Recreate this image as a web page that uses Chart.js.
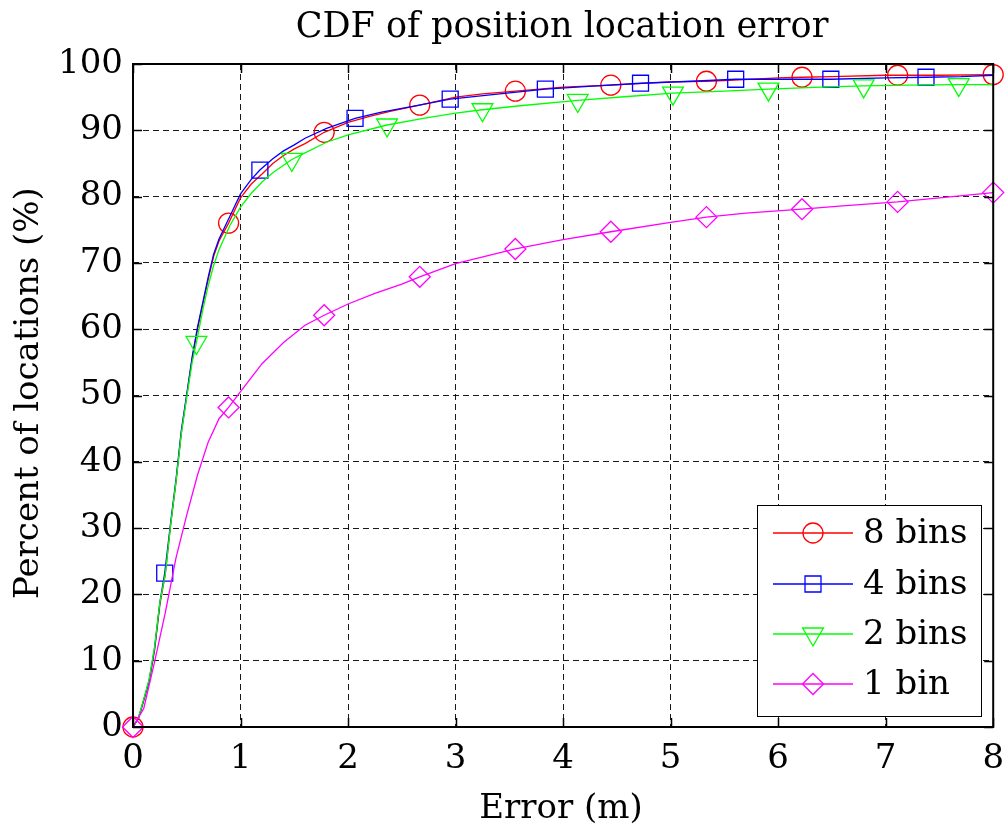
<!DOCTYPE html>
<html>
<head>
<meta charset="utf-8">
<title>CDF of position location error</title>
<script src="https://cdn.jsdelivr.net/npm/chart.js"></script>
<style>
    html, body { margin: 0; padding: 0; background: #fff; }
    #wrap { width: 1005px; height: 828px; }
</style>
</head>
<body>
<div id="wrap"><canvas id="mycanvas"></canvas></div>
<script>
// error (m) against percent of located positions, one curve per bin count
var err8 = [0, 0.05, 0.1, 0.15, 0.2, 0.25, 0.3, 0.35, 0.4, 0.45, 0.5, 0.55, 0.6, 0.65, 0.7, 0.75, 0.8, 0.889, 1.0, 1.1,
            1.2, 1.3, 1.4, 1.5, 1.6, 1.778, 2.0, 2.2, 2.4, 2.667, 3.0, 3.25, 3.556, 4.0, 4.444, 5.0, 5.333, 5.5, 6.0, 6.222,
            6.5, 7.0, 7.111, 7.5, 8.0];
var pct8 = [0, 1.3, 4.0, 6.8, 11.5, 18.5, 23.0, 30.5, 37.0, 44.5, 50.0, 55.5, 60.0, 63.8, 67.6, 71.0, 73.3, 76.0, 79.8, 81.9,
            83.4, 85.0, 86.2, 87.2, 88.0, 89.7, 91.2, 92.1, 92.9, 93.8, 95.0, 95.5, 95.9, 96.5, 96.8, 97.3, 97.4, 97.5, 97.9, 98.0,
            98.1, 98.3, 98.3, 98.3, 98.4];
var mark8 = [0, 0.889, 1.778, 2.667, 3.556, 4.444, 5.333, 6.222, 7.111, 8.0];

var err4 = [0, 0.05, 0.1, 0.15, 0.2, 0.25, 0.295, 0.35, 0.4, 0.45, 0.5, 0.55, 0.6, 0.65, 0.7, 0.75, 0.8, 0.9, 1.0, 1.1,
            1.18, 1.3, 1.4, 1.5, 1.6, 1.8, 2.065, 2.3, 2.6, 2.95, 3.3, 3.835, 4.2, 4.72, 5.2, 5.605, 6.0, 6.49, 7.0, 7.375,
            7.7, 8.0];
var pct4 = [0, 1.3, 4.1, 7.0, 11.8, 18.8, 23.2, 30.8, 37.3, 44.8, 50.2, 55.8, 60.3, 64.1, 67.9, 71.3, 73.6, 77.0, 80.4, 82.6,
            84.0, 85.7, 86.9, 87.8, 88.8, 90.3, 91.8, 92.7, 93.6, 94.7, 95.3, 96.2, 96.6, 97.1, 97.4, 97.7, 97.7, 97.7, 97.9, 98.0,
            98.1, 98.3];
var mark4 = [0.295, 1.18, 2.065, 2.95, 3.835, 4.72, 5.605, 6.49, 7.375];

var err2 = [0, 0.05, 0.1, 0.15, 0.2, 0.25, 0.3, 0.35, 0.4, 0.45, 0.5, 0.55, 0.59, 0.65, 0.7, 0.75, 0.8, 0.9, 1.0, 1.1,
            1.2, 1.3, 1.477, 1.6, 1.8, 2.0, 2.363, 2.7, 3.0, 3.25, 3.6, 4.136, 4.6, 5.022, 5.5, 5.91, 6.4, 6.795, 7.2, 7.68,
            8.0];
var pct2 = [0, 1.4, 4.2, 7.2, 12.0, 18.8, 23.0, 30.5, 37.0, 44.3, 49.8, 55.0, 58.0, 63.0, 66.6, 69.6, 72.0, 75.6, 78.4, 80.5,
            82.2, 83.6, 85.6, 86.6, 88.2, 89.3, 90.8, 91.8, 92.6, 93.1, 93.7, 94.5, 95.1, 95.6, 95.9, 96.2, 96.5, 96.7, 96.8, 96.9,
            96.9];
var mark2 = [0.59, 1.477, 2.363, 3.25, 4.136, 5.022, 5.91, 6.795, 7.68];

var err1 = [0, 0.1, 0.2, 0.3, 0.4, 0.5, 0.6, 0.7, 0.8, 0.889, 1.0, 1.2, 1.4, 1.6, 1.778, 2.0, 2.25, 2.5, 2.667, 3.0,
            3.556, 4.0, 4.444, 5.0, 5.333, 5.7, 6.222, 6.6, 7.111, 7.5, 8.0];
var pct1 = [0, 2.8, 9.8, 17.2, 25.5, 32.0, 38.0, 43.0, 46.5, 48.2, 50.6, 54.8, 58.0, 60.6, 62.1, 63.8, 65.4, 66.8, 67.9, 69.9,
            72.1, 73.5, 74.7, 76.1, 76.9, 77.5, 78.1, 78.6, 79.2, 79.8, 80.6];
var mark1 = [0, 0.889, 1.778, 2.667, 3.556, 4.444, 5.333, 6.222, 7.111, 8.0];

var seriesNames = ['8 bins', '4 bins', '2 bins', '1 bin'];
var xTicks = [0, 1, 2, 3, 4, 5, 6, 7, 8];
var yTicks = [0, 10, 20, 30, 40, 50, 60, 70, 80, 90, 100];

var FONT = '"DejaVu Serif", "Liberation Serif", serif';

function toPoints(xs, ys) {
    var pts = [];
    for (var i = 0; i < xs.length; i++) {
        pts.push({ x: xs[i], y: ys[i] });
    }
    return pts;
}

// marker every few samples, like matlab's plot(..., 'o-') on a thinned index
function markRadius(marks, r) {
    return function(ctx) {
        return marks.indexOf(ctx.raw.x) >= 0 ? r : 0;
    };
}

function makeSet(label, xs, ys, marks, color, style, r, rot, order) {
    return {
        label: label,
        data: toPoints(xs, ys),
        marks: marks,
        markSize: r,
        borderColor: color,
        borderWidth: 1.3,
        tension: 0,
        fill: false,
        pointStyle: style,
        pointRotation: rot,
        pointRadius: markRadius(marks, r),
        pointHoverRadius: markRadius(marks, r),
        pointBorderColor: color,
        pointBorderWidth: 1.3,
        pointBackgroundColor: 'rgba(0,0,0,0)',
        clip: false,
        order: order
    };
}

var sets = [
    makeSet(seriesNames[0], err8, pct8, mark8, '#ff0000', 'circle', 10, 0, 4),
    makeSet(seriesNames[1], err4, pct4, mark4, '#0000ff', 'rect', 11.3, 0, 3),
    makeSet(seriesNames[2], err2, pct2, mark2, '#00ff00', 'triangle', 12, 180, 2),
    makeSet(seriesNames[3], err1, pct1, mark1, '#ff00ff', 'rectRot', 10.5, 0, 1)
];

// legend marker, same geometry as chart.js point styles
function drawMarker(ctx, style, x, y, r) {
    ctx.beginPath();
    if (style == 'circle') {
        ctx.arc(x, y, r, 0, Math.PI * 2);
    } else if (style == 'rect') {
        var s = r * Math.SQRT1_2;
        ctx.rect(x - s, y - s, 2 * s, 2 * s);
    } else if (style == 'triangle') {
        var a = Math.PI;
        for (var k = 0; k < 3; k++) {
            var px = x + Math.sin(a) * r, py = y - Math.cos(a) * r;
            if (k == 0) ctx.moveTo(px, py); else ctx.lineTo(px, py);
            a += Math.PI * 2 / 3;
        }
        ctx.closePath();
    } else {
        ctx.moveTo(x, y - r);
        ctx.lineTo(x + r, y);
        ctx.lineTo(x, y + r);
        ctx.lineTo(x - r, y);
        ctx.closePath();
    }
    ctx.stroke();
}

var axesBox = {
    id: 'axesBox',
    afterDatasetsDraw: function(chart) {
        var ctx = chart.ctx, a = chart.chartArea;
        var sx = chart.scales.x, sy = chart.scales.y;
        var tl = 9;
        ctx.save();
        ctx.strokeStyle = '#000';
        ctx.lineWidth = 1.5;
        ctx.beginPath();
        xTicks.forEach(function(v) {
            var px = Math.round(sx.getPixelForValue(v)) + 0.5;
            ctx.moveTo(px, a.bottom); ctx.lineTo(px, a.bottom - tl);
            ctx.moveTo(px, a.top); ctx.lineTo(px, a.top + tl);
        });
        yTicks.forEach(function(v) {
            var py = Math.round(sy.getPixelForValue(v)) + 0.5;
            ctx.moveTo(a.left, py); ctx.lineTo(a.left + tl, py);
            ctx.moveTo(a.right, py); ctx.lineTo(a.right - tl, py);
        });
        ctx.stroke();
        ctx.lineWidth = 2;
        ctx.strokeRect(a.left, a.top, a.right - a.left, a.bottom - a.top);
        ctx.restore();
    },
    afterDraw: function(chart) {
        var ctx = chart.ctx;
        ctx.save();
        ctx.fillStyle = '#000';

        // titles
        ctx.font = '35px ' + FONT;
        ctx.textAlign = 'center';
        ctx.textBaseline = 'alphabetic';
        ctx.fillText('CDF of position location error', 562, 37);
        ctx.font = '34px ' + FONT;
        ctx.fillText('Error (m)', 561, 818);
        ctx.save();
        ctx.translate(38, 393);
        ctx.rotate(-Math.PI / 2);
        ctx.fillText('Percent of locations (%)', 0, 0);
        ctx.restore();

        // legend box
        var bx = 757.5, by = 505.5, bw = 224, bh = 211;
        ctx.fillStyle = '#fff';
        ctx.fillRect(bx, by, bw, bh);
        ctx.strokeStyle = '#000';
        ctx.lineWidth = 1;
        ctx.strokeRect(bx, by, bw, bh);
        var rowY = [533, 584, 634, 684];
        chart.data.datasets.forEach(function(ds, i) {
            var y = rowY[i];
            ctx.strokeStyle = ds.borderColor;
            ctx.lineWidth = 1.3;
            ctx.beginPath();
            ctx.moveTo(773, y);
            ctx.lineTo(853, y);
            ctx.stroke();
            drawMarker(ctx, ds.pointStyle, 813, y, ds.markSize);
            ctx.fillStyle = '#000';
            ctx.font = '34px ' + FONT;
            ctx.textAlign = 'left';
            ctx.textBaseline = 'middle';
            ctx.fillText(ds.label, 863, y + 1);
        });
        ctx.restore();
    }
};

var gridOpts = {
    color: 'rgba(0,0,0,0.9)',
    lineWidth: 1,
    drawTicks: false
};

var ctx = document.getElementById('mycanvas');
var lineGraph = new Chart(ctx, {
    type: 'line',
    data: { datasets: sets },
    options: {
        responsive: true,
        maintainAspectRatio: false,
        animation: false,
        events: [],
        layout: { padding: { top: 64, right: 10, left: 0, bottom: 0 } },
        plugins: {
            legend: { display: false },
            tooltip: { enabled: false },
            title: { display: false }
        },
        scales: {
            x: {
                type: 'linear',
                min: 0,
                max: 8,
                grid: gridOpts,
                border: { display: false, dash: [6, 4] },
                ticks: { color: '#000', padding: 12, maxRotation: 0, font: { family: FONT, size: 34 } },
                afterBuildTicks: function(scale) {
                    scale.ticks = xTicks.map(function(v) { return { value: v }; });
                },
                afterFit: function(scale) {
                    scale.height = 101;
                    scale.paddingLeft = 0;
                    scale.paddingRight = 0;
                }
            },
            y: {
                type: 'linear',
                min: 0,
                max: 100,
                grid: gridOpts,
                border: { display: false, dash: [6, 4] },
                ticks: { color: '#000', padding: 10, font: { family: FONT, size: 34 } },
                afterBuildTicks: function(scale) {
                    scale.ticks = yTicks.map(function(v) { return { value: v }; });
                },
                afterFit: function(scale) {
                    scale.width = 133;
                    scale.paddingTop = 0;
                    scale.paddingBottom = 0;
                }
            }
        }
    },
    plugins: [axesBox]
});
</script>
</body>
</html>
